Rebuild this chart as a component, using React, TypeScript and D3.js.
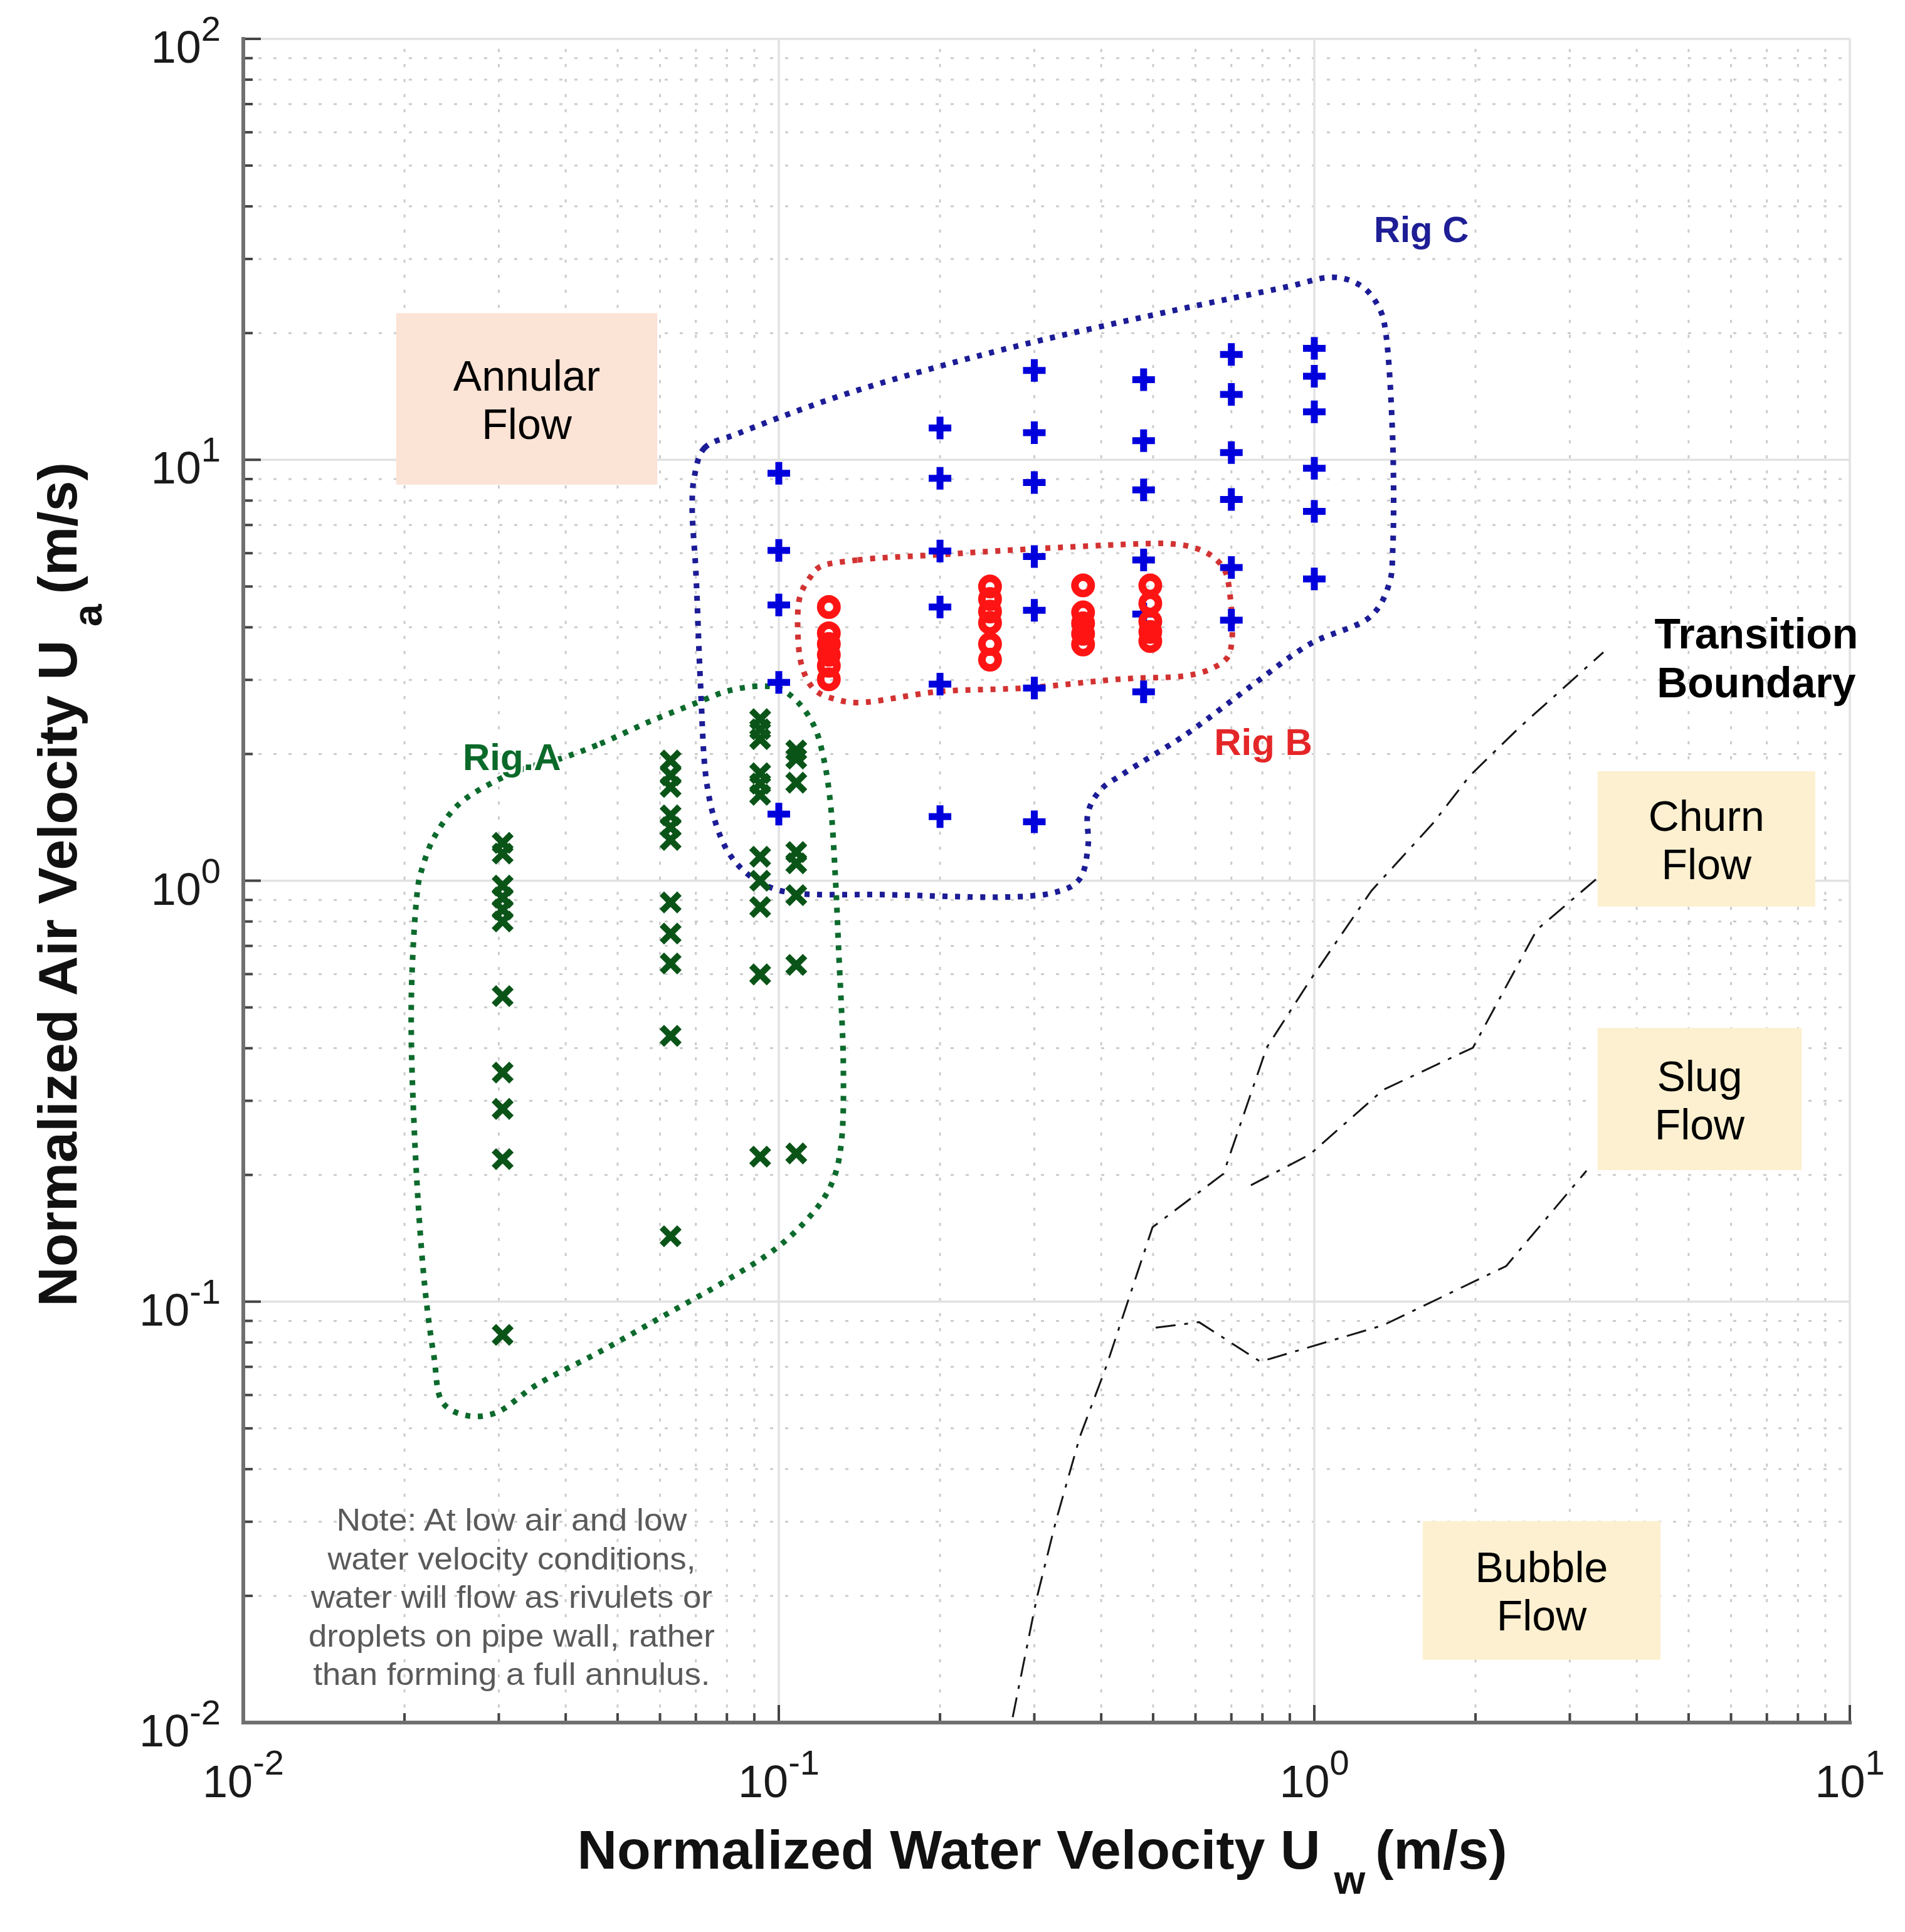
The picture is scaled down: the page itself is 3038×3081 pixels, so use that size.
import React from 'react';
import * as d3 from 'd3';

type Pt = [number, number];

const W = 3038;
const H = 3081;
const FONT = 'Liberation Sans, Arial, Helvetica, sans-serif';

// axis decades (log10)
const xDecades = [-2, -1, 0, 1];
const yDecades = [-2, -1, 0, 1, 2];

// Rig C test points (blue +)
const rigCPoints: Pt[] = [
  [0.1, 9.29], [0.1, 6.09], [0.1, 4.52], [0.1, 2.96], [0.1, 1.44],
  [0.2, 11.9], [0.2, 9.04], [0.2, 6.07], [0.2, 4.47], [0.2, 2.93], [0.2, 1.42],
  [0.3, 16.3], [0.3, 11.6], [0.3, 8.83], [0.3, 5.89], [0.3, 4.39], [0.3, 2.87], [0.3, 1.38],
  [0.48, 15.5], [0.48, 11.1], [0.48, 8.48], [0.48, 5.78], [0.48, 4.3], [0.48, 2.81],
  [0.7, 17.8], [0.7, 14.3], [0.7, 10.4], [0.7, 8.05], [0.7, 5.55], [0.7, 4.16],
  [1.0, 18.4], [1.0, 15.8], [1.0, 13.0], [1.0, 9.55], [1.0, 7.54], [1.0, 5.21],
];

// Rig B test points (red o)
const rigBPoints: Pt[] = [
  [0.124, 4.47], [0.124, 3.87], [0.124, 3.65], [0.124, 3.44], [0.124, 3.24], [0.124, 3.01],
  [0.248, 5.0], [0.248, 4.67], [0.248, 4.36], [0.248, 4.1], [0.248, 3.65], [0.248, 3.35],
  [0.37, 5.03], [0.37, 4.34], [0.37, 4.09], [0.37, 3.86], [0.37, 3.64],
  [0.494, 5.03], [0.494, 4.56], [0.494, 4.13], [0.494, 3.9], [0.494, 3.71],
];

// Rig A test points (green x)
const rigAPoints: Pt[] = [
  [0.0305, 1.23], [0.0305, 1.16], [0.0305, 0.974], [0.0305, 0.912], [0.0305, 0.854], [0.0305, 0.8],
  [0.0305, 0.532], [0.0305, 0.35], [0.0305, 0.287], [0.0305, 0.218], [0.0305, 0.0834],
  [0.0628, 1.93], [0.0628, 1.78], [0.0628, 1.67], [0.0628, 1.43], [0.0628, 1.34], [0.0628, 1.25],
  [0.0628, 0.888], [0.0628, 0.749], [0.0628, 0.636], [0.0628, 0.428], [0.0628, 0.143],
  [0.0923, 2.42], [0.0923, 2.29], [0.0923, 2.17], [0.0923, 1.8], [0.0923, 1.7], [0.0923, 1.6],
  [0.0923, 1.14], [0.0923, 1.0], [0.0923, 0.866], [0.0923, 0.599], [0.0923, 0.221],
  [0.1078, 2.04], [0.1078, 1.95], [0.1078, 1.71], [0.1078, 1.17], [0.1078, 1.1],
  [0.1078, 0.924], [0.1078, 0.631], [0.1078, 0.225],
];

// hand-drawn envelopes round each rig
const rigCOutline: Pt[] = [
  [0.0695, 9.07], [0.0726, 10.66], [0.0837, 11.53], [0.1268, 14.03], [0.1915, 16.43],
  [0.2893, 18.85], [0.5364, 22.52], [0.9, 25.85], [1.061, 27.12], [1.15, 26.84],
  [1.251, 25.32], [1.331, 22.52], [1.36, 19.98], [1.401, 11.07], [1.401, 6.13],
  [1.382, 5.11], [1.278, 4.26], [0.981, 3.65], [0.751, 2.86], [0.577, 2.23],
  [0.443, 1.805], [0.399, 1.645], [0.378, 1.454], [0.378, 1.212], [0.364, 1.007],
  [0.3232, 0.934], [0.1531, 0.927], [0.1058, 0.936], [0.0948, 0.973], [0.0862, 1.053],
  [0.0804, 1.171], [0.0762, 1.372], [0.0732, 1.739], [0.0714, 2.94], [0.07, 5.44],
  [0.0689, 7.72],
];

const rigBOutline: Pt[] = [
  [0.119, 5.555], [0.1404, 5.78], [0.1994, 5.95], [0.2891, 6.13], [0.484, 6.32],
  [0.537, 6.32], [0.595, 6.19], [0.646, 5.89], [0.681, 5.45], [0.695, 4.84],
  [0.702, 3.75], [0.688, 3.39], [0.646, 3.2], [0.583, 3.075], [0.437, 3.015],
  [0.2891, 2.87], [0.1994, 2.815], [0.1404, 2.65], [0.1267, 2.705], [0.1166, 2.842],
  [0.1107, 3.2], [0.1085, 3.9], [0.1096, 4.75], [0.1142, 5.24],
];

const rigAOutline: Pt[] = [
  [0.0393, 1.954], [0.0464, 2.115], [0.057, 2.38], [0.0701, 2.644], [0.0804, 2.824],
  [0.0923, 2.9], [0.1003, 2.86], [0.1089, 2.644], [0.1166, 2.32], [0.1215, 1.93],
  [0.1249, 1.522], [0.1275, 1.026], [0.1293, 0.692], [0.132, 0.359], [0.131, 0.242],
  [0.1275, 0.201], [0.1215, 0.1765], [0.1119, 0.1547], [0.0989, 0.1339], [0.0804, 0.1129],
  [0.0611, 0.0927], [0.0464, 0.0761], [0.0352, 0.0633], [0.0296, 0.0544], [0.0262, 0.0536],
  [0.0236, 0.0574], [0.0227, 0.0741], [0.0218, 0.11], [0.0209, 0.242], [0.0206, 0.532],
  [0.0212, 0.974], [0.0215, 1.054], [0.0227, 1.266], [0.0253, 1.522], [0.0299, 1.737],
  [0.0338, 1.854],
];

// flow regime transition boundaries (dash-dot)
const boundaryA: Pt[] = [
  [0.2734, 0.0103], [0.303, 0.0197], [0.3294, 0.0302], [0.3648, 0.0477], [0.4087, 0.0701],
  [0.4987, 0.1502], [0.6764, 0.2012], [0.8147, 0.4012], [0.981, 0.579], [1.278, 0.946],
  [1.664, 1.367], [1.951, 1.775], [2.408, 2.304], [3.466, 3.49],
];
const boundaryB: Pt[] = [
  [0.7614, 0.189], [0.981, 0.2237], [1.345, 0.3186], [1.978, 0.4012], [2.604, 0.765], [3.356, 1.007],
];
const boundaryC: Pt[] = [
  [0.5055, 0.0867], [0.609, 0.0894], [0.793, 0.072], [1.345, 0.0879], [2.282, 0.1215], [3.223, 0.2046],
];

// regime boxes: [xMin, xMax, yMin, yMax] in data units
const regimeNames = ['Annular|Flow', 'Churn|Flow', 'Slug|Flow', 'Bubble|Flow'];
const regimeExtents: [number, number, number, number][] = [
  [0.0193, 0.0593, 8.73, 22.3],
  [3.38, 8.62, 0.868, 1.82],
  [3.38, 8.13, 0.2053, 0.447],
  [1.594, 4.43, 0.0141, 0.0301],
];
const regimeFills = ['#fbe3d5', '#fdf0d0', '#fdf0d0', '#fdf0d0'];

const noteLines = [
  'Note: At low air and low',
  'water velocity conditions,',
  'water will flow as rivulets or',
  'droplets on pipe wall, rather',
  'than forming a full annulus.',
];
const noteWidths = [559, 587, 640, 648, 633];

const x = d3.scaleLog().domain([0.01, 10]).range([388, 2950]);
const y = d3.scaleLog().domain([0.01, 100]).range([2747, 62]);

const X0 = x.range()[0];
const X1 = x.range()[1];
const Y0 = y.range()[0];
const Y1 = y.range()[1];

const minorOf = (decs: number[]) =>
  decs.slice(0, -1).flatMap((d) => d3.range(2, 10).map((k) => k * Math.pow(10, d)));
const xMinor = minorOf(xDecades);
const yMinor = minorOf(yDecades);

const closed = d3
  .line<Pt>()
  .x((d) => x(d[0]))
  .y((d) => y(d[1]))
  .curve(d3.curveCatmullRomClosed.alpha(0.5));
const open = d3
  .line<Pt>()
  .x((d) => x(d[0]))
  .y((d) => y(d[1]));

const App: React.FC = () => {
  return (
    <svg
      width={W}
      height={H}
      viewBox={`0 0 ${W} ${H}`}
      style={{ position: 'absolute', left: 0, top: 0, display: 'block', background: '#fff' }}
      fontFamily={FONT}
    >
      <rect x={0} y={0} width={W} height={H} fill="#fff" />

      {/* minor grid */}
      <g stroke="#cccccc" strokeWidth={3} strokeDasharray="5 19">
        {xMinor.map((v) => (
          <line key={`gx${v}`} x1={x(v)} x2={x(v)} y1={Y0} y2={Y1} />
        ))}
        {yMinor.map((v) => (
          <line key={`gy${v}`} x1={X0} x2={X1} y1={y(v)} y2={y(v)} />
        ))}
      </g>
      {/* major grid */}
      <g stroke="#e2e2e2" strokeWidth={3.5}>
        {xDecades.map((d) => (
          <line key={`mx${d}`} x1={x(10 ** d)} x2={x(10 ** d)} y1={Y0} y2={Y1} />
        ))}
        {yDecades.map((d) => (
          <line key={`my${d}`} x1={X0} x2={X1} y1={y(10 ** d)} y2={y(10 ** d)} />
        ))}
      </g>

      {/* transition boundaries */}
      <g fill="none" stroke="#161616" strokeWidth={3} strokeDasharray="32 14 6 14">
        <path d={open(boundaryA) || ''} />
        <path d={open(boundaryB) || ''} />
        <path d={open(boundaryC) || ''} />
      </g>

      {/* regime boxes */}
      {regimeExtents.map(([a, b, c, e], i) => {
        const bx = x(a);
        const by = y(e);
        const bw = x(b) - x(a);
        const bh = y(c) - y(e);
        const cx = bx + bw / 2;
        const cy = by + bh / 2;
        const [l1, l2] = regimeNames[i].split('|');
        return (
          <g key={regimeNames[i]}>
            <rect x={bx} y={by} width={bw} height={bh} fill={regimeFills[i]} />
            <text x={cx} y={cy - 13} textAnchor="middle" fontSize={68} fill="#000">
              {l1}
            </text>
            <text x={cx} y={cy + 64} textAnchor="middle" fontSize={68} fill="#000">
              {l2}
            </text>
          </g>
        );
      })}

      {/* note */}
      <g fill="#5a5a5a" fontSize={50} textAnchor="middle">
        {noteLines.map((t, i) => (
          <text
            key={t}
            x={x(0.0317)}
            y={y(0.02856) + i * 61.5}
            textLength={noteWidths[i]}
            lengthAdjust="spacingAndGlyphs"
          >
            {t}
          </text>
        ))}
      </g>

      {/* rig envelopes */}
      <g fill="none" strokeWidth={9} strokeDasharray="8 12">
        <path d={closed(rigCOutline) || ''} stroke="#1c1c96" />
        <path d={closed(rigAOutline) || ''} stroke="#0c6a2c" />
        <path d={closed(rigBOutline) || ''} stroke="#d33232" />
      </g>

      {/* markers */}
      <g stroke="#0a5418" strokeWidth={10} strokeLinecap="butt">
        {rigAPoints.map(([a, b], i) => (
          <path key={`a${i}`} transform={`translate(${x(a)},${y(b)})`} d="M-14,-14L14,14M-14,14L14,-14" />
        ))}
      </g>
      <g stroke="#0000dc" strokeWidth={11}>
        {rigCPoints.map(([a, b], i) => (
          <path key={`c${i}`} transform={`translate(${x(a)},${y(b)})`} d="M-18,0H18M0,-18V18" />
        ))}
      </g>
      <g stroke="#ff1414" strokeWidth={12} fill="none">
        {rigBPoints.map(([a, b], i) => (
          <circle key={`b${i}`} cx={x(a)} cy={y(b)} r={13} />
        ))}
      </g>

      {/* rig labels */}
      <text x={x(1.292)} y={y(32.9)} fontSize={58} fontWeight="bold" fill="#1e1e96">
        Rig C
      </text>
      <text x={x(0.65)} y={y(1.992)} fontSize={60} fontWeight="bold" fill="#e42628">
        Rig B
      </text>
      <text
        x={x(0.02569)}
        y={y(1.835)}
        fontSize={60}
        fontWeight="bold"
        fill="#0b6a2a"
        stroke="#fff"
        strokeWidth={7}
        paintOrder="stroke"
      >
        Rig.A
      </text>
      <g fontSize={68} fontWeight="bold" fill="#000" textAnchor="middle">
        <text x={x(6.69)} y={y(3.565)}>Transition</text>
        <text x={x(6.69)} y={y(3.565) + 78}>Boundary</text>
      </g>

      {/* axes */}
      <g stroke="#454545" strokeWidth={4}>
        {xDecades.map((d) => (
          <line key={`tx${d}`} x1={x(10 ** d)} x2={x(10 ** d)} y1={Y0} y2={Y0 - 28} />
        ))}
        {xMinor.map((v) => (
          <line key={`tmx${v}`} x1={x(v)} x2={x(v)} y1={Y0} y2={Y0 - 15} />
        ))}
        {yDecades.map((d) => (
          <line key={`ty${d}`} x1={X0} x2={X0 + 28} y1={y(10 ** d)} y2={y(10 ** d)} />
        ))}
        {yMinor.map((v) => (
          <line key={`tmy${v}`} x1={X0} x2={X0 + 15} y1={y(v)} y2={y(v)} />
        ))}
      </g>
      <g stroke="#707070" strokeWidth={6} strokeLinecap="square">
        <line x1={X0} x2={X0} y1={Y1} y2={Y0} />
        <line x1={X0} x2={X1} y1={Y0} y2={Y0} />
      </g>

      {/* tick labels */}
      <g fill="#1a1a1a" fontSize={72}>
        {xDecades.map((d) => (
          <text key={`lx${d}`} x={x(10 ** d)} y={Y0 + 119} textAnchor="middle">
            <tspan>10</tspan>
            <tspan dy={-36} fontSize={56}>
              {String(d)}
            </tspan>
          </text>
        ))}
        {yDecades.map((d) => (
          <text key={`ly${d}`} x={X0 - 36} y={y(10 ** d) + 38} textAnchor="end">
            <tspan>10</tspan>
            <tspan dy={-35} fontSize={56}>
              {String(d)}
            </tspan>
          </text>
        ))}
      </g>

      {/* axis titles */}
      <text x={1662} y={2980} textAnchor="middle" fontSize={88} fontWeight="bold" fill="#111">
        <tspan>Normalized Water Velocity U</tspan>
        <tspan dx={22} dy={40} fontSize={64}>
          w
        </tspan>
        <tspan dx={16} dy={-40}>
          (m/s)
        </tspan>
      </text>
      <text
        transform={`translate(122,${(Y0 + Y1) / 2 + 6}) rotate(-90)`}
        textAnchor="middle"
        fontSize={88}
        fontWeight="bold"
        fill="#111"
      >
        <tspan>Normalized Air Velocity U</tspan>
        <tspan dx={22} dy={40} fontSize={64}>
          a
        </tspan>
        <tspan dx={16} dy={-40}>
          (m/s)
        </tspan>
      </text>
    </svg>
  );
};

export default App;
